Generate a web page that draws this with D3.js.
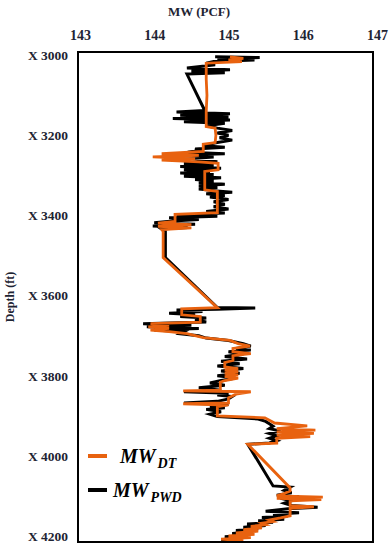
<!DOCTYPE html>
<html>
<head>
<meta charset="utf-8">
<script src="https://cdn.jsdelivr.net/npm/d3@7"></script>
<style>
  html, body { margin: 0; padding: 0; background: #fff; }
  svg { display: block; }
  .tick text { font-family: 'Liberation Serif', 'DejaVu Serif', serif; font-weight: bold; fill: #1e2433; }
</style>
</head>
<body>
<svg></svg>
<script>
'use strict'

// tick labels
const mwTicks = [143, 144, 145, 146, 147]
const depthTicks = [3000, 3200, 3400, 3600, 3800, 4000, 4200]

// MW from DT (depth ft, MW pcf)
const dtDepth = [3004, 3008, 3012, 3016, 3020, 3060, 3100, 3140, 3178, 3182, 3200, 3218, 3222, 3240, 3246, 3250, 3254, 3258, 3262, 3266,
  3270, 3286, 3290, 3310, 3336, 3340, 3370, 3393, 3397, 3415, 3419, 3423, 3427, 3431, 3435, 3440, 3470, 3505, 3630, 3633,
  3648, 3652, 3666, 3670, 3674, 3678, 3682, 3686, 3690, 3695, 3705, 3712, 3720, 3726, 3732, 3740, 3745, 3750, 3762, 3767,
  3778, 3782, 3786, 3790, 3794, 3798, 3802, 3806, 3812, 3816, 3836, 3838, 3840, 3846, 3855, 3868, 3870, 3873, 3877, 3900,
  3905, 3918, 3925, 3932, 3936, 3940, 3944, 3948, 3952, 3956, 3968, 3971, 4080, 4088, 4094, 4100, 4103, 4106, 4109, 4112,
  4124, 4127, 4131, 4150, 4155, 4160, 4164, 4168, 4172, 4176, 4180, 4184, 4188, 4192, 4196, 4200, 4204, 4208, 4212]
const dtMW = [145.02, 145.2, 145.0, 145.18, 144.7, 144.7, 144.71, 144.7, 144.7, 144.82, 144.83, 144.82, 144.66, 144.66, 144.1, 144.6, 143.98, 144.55, 144.1, 144.6,
  144.86, 144.86, 144.68, 144.68, 144.68, 144.85, 144.85, 144.85, 144.28, 144.28, 144.05, 144.5, 144.05, 144.5, 144.1, 144.12, 144.12, 144.12, 144.85, 144.37,
  144.37, 144.62, 144.62, 143.95, 144.2, 143.92, 144.2, 143.95, 144.2, 144.44, 144.66, 145.02, 145.13, 145.29, 145.06, 145.06, 145.3, 145.06, 145.06, 144.95,
  144.95, 145.13, 144.95, 145.13, 144.95, 145.13, 144.95, 145.13, 144.95, 144.89, 144.89, 144.39, 145.3, 145.1, 145.0, 145.0, 144.39, 145.0, 144.85, 144.85,
  145.49, 145.62, 146.06, 145.65, 146.17, 145.65, 146.15, 145.65, 146.1, 145.65, 145.65, 145.26, 145.83, 145.83, 145.75, 145.65, 146.27, 145.65, 146.25, 145.83,
  145.83, 146.15, 145.83, 145.83, 145.7, 145.55, 145.6, 145.45, 145.5, 145.3, 145.45, 145.2, 145.4, 145.1, 145.35, 145.0, 145.3, 144.9, 145.2]

// MW from PWD
const pwdDepth = [3004, 3006, 3009, 3012, 3016, 3020, 3024, 3028, 3032, 3036, 3040, 3044, 3047, 3138, 3142, 3146, 3150, 3154, 3158, 3162,
  3166, 3170, 3176, 3182, 3188, 3194, 3200, 3206, 3212, 3218, 3222, 3226, 3230, 3234, 3238, 3242, 3246, 3250, 3254, 3258,
  3262, 3266, 3270, 3274, 3278, 3282, 3286, 3290, 3294, 3298, 3302, 3306, 3310, 3314, 3318, 3322, 3326, 3330, 3334, 3338,
  3342, 3346, 3350, 3354, 3360, 3366, 3372, 3378, 3384, 3390, 3394, 3398, 3402, 3406, 3410, 3414, 3418, 3422, 3426, 3430,
  3434, 3440, 3470, 3505, 3630, 3631, 3634, 3636, 3640, 3644, 3648, 3652, 3656, 3660, 3666, 3670, 3674, 3678, 3682, 3686,
  3690, 3695, 3700, 3706, 3712, 3720, 3726, 3732, 3736, 3740, 3746, 3752, 3758, 3764, 3770, 3776, 3782, 3788, 3794, 3800,
  3806, 3812, 3818, 3824, 3830, 3836, 3840, 3844, 3848, 3852, 3858, 3864, 3868, 3872, 3876, 3880, 3884, 3890, 3896, 3902,
  3908, 3914, 3920, 3926, 3932, 3938, 3944, 3950, 3956, 3962, 3968, 3971, 4075, 4078, 4086, 4092, 4098, 4102, 4106, 4112,
  4118, 4124, 4128, 4132, 4138, 4142, 4146, 4150, 4154, 4158, 4162, 4166, 4170, 4174, 4178, 4182, 4186, 4190, 4194, 4198,
  4202, 4206, 4210]
const pwdMW = [144.82, 145.42, 144.85, 145.35, 144.8, 144.7, 144.82, 144.62, 144.44, 145.02, 144.5, 144.95, 144.44, 144.68, 144.3, 145.02, 144.35, 145.0, 144.25, 145.02,
  144.4, 144.95, 144.7, 144.85, 145.05, 144.85, 145.0, 144.88, 145.05, 144.85, 144.75, 144.66, 144.95, 144.55, 144.6, 144.45, 144.95, 144.2, 144.8, 144.5,
  144.65, 144.85, 144.4, 144.8, 144.35, 144.9, 144.4, 144.75, 144.35, 144.8, 144.4, 144.9, 144.55, 144.8, 144.6, 144.95, 144.6, 144.85, 144.6, 144.8,
  145.05, 144.7, 144.95, 144.75, 145.0, 144.8, 144.95, 144.8, 145.0, 144.7, 144.95, 144.3, 144.85, 144.2, 144.6, 144.25, 144.0, 144.55, 143.98, 144.45,
  144.1, 144.15, 144.15, 144.15, 144.85, 145.36, 144.85, 144.3, 144.65, 144.2, 144.55, 144.35, 144.7, 144.55, 144.7, 143.85, 144.5, 143.9, 144.6, 144.0,
  144.4, 144.35, 144.6, 144.7, 145.0, 145.2, 145.3, 145.1, 145.3, 145.0, 145.2, 144.95, 145.25, 144.9, 145.15, 144.85, 145.2, 144.9, 145.15, 144.85,
  145.1, 144.9, 144.75, 144.95, 144.6, 144.9, 144.4, 145.0, 144.85, 145.05, 145.0, 144.85, 144.4, 145.0, 144.75, 144.95, 144.7, 144.9, 144.75, 144.85,
  145.4, 145.5, 145.55, 145.6, 145.55, 145.7, 145.55, 145.65, 145.55, 145.65, 145.55, 145.26, 145.6, 145.83, 145.75, 145.85, 145.65, 145.95, 145.7, 145.85,
  145.75, 145.85, 146.2, 145.8, 145.5, 145.95, 145.6, 145.8, 145.45, 145.75, 145.4, 145.6, 145.25, 145.5, 145.2, 145.4, 145.1, 145.3, 145.05, 145.25,
  144.95, 145.15, 144.9]

const W = 391
const H = 550
const box = { left: 78, right: 373, top: 52, bottom: 542 }
const serif = "'Liberation Serif', 'DejaVu Serif', serif"

const svg = d3.select('svg').attr('width', W).attr('height', H)

const x = d3.scaleLinear().domain([143, 147]).range([80, 377])
const y = d3.scaleLinear().domain([2992, 4215]).range([box.top, box.bottom])

// axes (labels only)
const xAxis = svg.append('g')
  .attr('transform', `translate(0, ${box.top - 12})`)
  .call(d3.axisTop(x).tickValues(mwTicks).tickSize(0).tickPadding(0).tickFormat(d3.format('d')))
xAxis.select('.domain').remove()
xAxis.selectAll('.tick text').style('font-size', '14px')

const yAxis = svg.append('g')
  .attr('transform', `translate(${box.left}, 0)`)
  .call(d3.axisLeft(y).tickValues(depthTicks).tickSize(0).tickPadding(10).tickFormat((d) => 'X ' + d))
yAxis.select('.domain').remove()
yAxis.selectAll('.tick text').style('font-size', '13.5px')

svg.append('text')
  .attr('x', 199).attr('y', 16)
  .attr('text-anchor', 'middle')
  .style('font-family', serif).style('font-weight', 'bold').style('font-size', '13px')
  .attr('fill', '#1e2433')
  .text('MW (PCF)')

svg.append('text')
  .attr('transform', `translate(14, ${(box.top + box.bottom) / 2}) rotate(-90)`)
  .attr('text-anchor', 'middle')
  .style('font-family', serif).style('font-weight', 'bold').style('font-size', '12px')
  .attr('fill', '#1e2433')
  .text('Depth (ft)')

// series
const line = d3.line()
  .x((d) => x(d[1]))
  .y((d) => y(d[0]))

const pwd = pwdDepth.map((d, i) => [d, pwdMW[i]])
const dt = dtDepth.map((d, i) => [d, dtMW[i]])

svg.append('path')
  .datum(pwd)
  .attr('d', line)
  .attr('fill', 'none')
  .attr('stroke', '#000')
  .attr('stroke-width', 3)

svg.append('path')
  .datum(dt)
  .attr('d', line)
  .attr('fill', 'none')
  .attr('stroke', '#e8620f')
  .attr('stroke-width', 2.8)

// frame
svg.append('rect')
  .attr('x', box.left).attr('y', box.top)
  .attr('width', box.right - box.left).attr('height', box.bottom - box.top)
  .attr('fill', 'none').attr('stroke', '#000').attr('stroke-width', 2)

// legend
const legend = [
  { name: 'MW', sub: 'DT', color: '#e8620f', y: 456, tx: 120 },
  { name: 'MW', sub: 'PWD', color: '#000', y: 490, tx: 113 }
]
legend.forEach((l) => {
  svg.append('line')
    .attr('x1', 88).attr('x2', 107)
    .attr('y1', l.y).attr('y2', l.y)
    .attr('stroke', l.color).attr('stroke-width', 4)
  const t = svg.append('text')
    .attr('x', l.tx).attr('y', l.y + 7)
    .style('font-family', serif).style('font-weight', 'bold').style('font-style', 'italic')
    .style('font-size', '20px')
    .attr('fill', '#000')
  t.append('tspan').text(l.name)
  t.append('tspan').attr('dy', 5).style('font-size', '14px').attr('dx', 2).text(l.sub)
})
</script>
</body>
</html>
